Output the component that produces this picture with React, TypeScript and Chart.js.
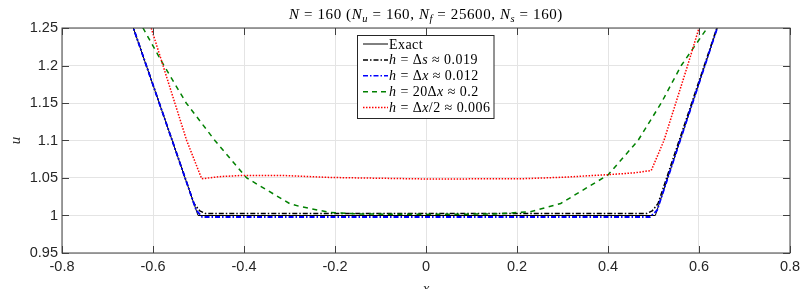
import React, { useEffect, useRef } from "react";
import { Chart, registerables } from "chart.js";

Chart.register(...registerables);

// ---- data ----
const xTickValues = [-0.8, -0.6, -0.4, -0.2, 0, 0.2, 0.4, 0.6, 0.8];
const xTickLabels = ["-0.8", "-0.6", "-0.4", "-0.2", "0", "0.2", "0.4", "0.6", "0.8"];
const yTickValues = [0.95, 1, 1.05, 1.1, 1.15, 1.2, 1.25];
const yTickLabels = ["0.95", "1", "1.05", "1.1", "1.15", "1.2", "1.25"];

const exactX = [-0.7, -0.501, 0.504, 0.7];
const exactU = [1.35, 1.0, 1.0, 1.36];

const dsX = [-0.7, -0.51, -0.497, -0.485, 0.485, 0.497, 0.51, 0.7];
const dsU = [1.35, 1.016, 1.006, 1.0027, 1.0027, 1.006, 1.016, 1.36];

const dxX = [-0.7, -0.505, -0.492, 0.492, 0.508, 0.7];
const dxU = [1.35, 1.007, 0.998, 0.998, 1.007, 1.36];

const d20X = [-0.7, -0.622, -0.576, -0.527, -0.464, -0.394, -0.3, -0.277, -0.211, -0.15, 0, 0.15, 0.229, 0.296, 0.4, 0.466, 0.517, 0.561, 0.618, 0.7];
const d20U = [1.34, 1.25, 1.2, 1.15, 1.1, 1.05, 1.016, 1.012, 1.004, 1.002, 1.0015, 1.002, 1.005, 1.016, 1.054, 1.1, 1.15, 1.2, 1.25, 1.34];

const halfX = [-0.7, -0.604, -0.578, -0.552, -0.526, -0.493, -0.45, -0.4, -0.32, -0.21, 0, 0.21, 0.3, 0.4, 0.46, 0.495, 0.523, 0.549, 0.575, 0.6, 0.7];
const halfU = [1.42, 1.25, 1.2, 1.15, 1.1, 1.049, 1.052, 1.0535, 1.0535, 1.0507, 1.0487, 1.049, 1.051, 1.0544, 1.057, 1.06, 1.1, 1.15, 1.2, 1.25, 1.43];

const pts = (xs: number[], ys: number[]) => xs.map((x, i) => ({ x, y: ys[i] }));

type Seg = { t: string; i?: boolean; sub?: boolean };
const SERIF = '"Liberation Serif", "Times New Roman", serif';

function segFont(s: Seg, size: number) {
  const sz = s.sub ? size * 0.7 : size;
  return `${s.i ? "italic " : ""}${sz}px ${SERIF}`;
}
function richWidth(ctx: CanvasRenderingContext2D, segs: Seg[], size: number) {
  let w = 0;
  for (const s of segs) {
    ctx.font = segFont(s, size);
    w += ctx.measureText(s.t).width;
  }
  return w;
}
function drawRich(ctx: CanvasRenderingContext2D, segs: Seg[], x: number, y: number, size: number) {
  let cx = x;
  ctx.textBaseline = "alphabetic";
  ctx.textAlign = "left";
  for (const s of segs) {
    ctx.font = segFont(s, size);
    ctx.fillText(s.t, cx, s.sub ? y + size * 0.22 : y);
    cx += ctx.measureText(s.t).width;
  }
}

const titleSegs: Seg[] = [
  { t: "N", i: true }, { t: " = 160 (" },
  { t: "N", i: true }, { t: "u", i: true, sub: true }, { t: " = 160, " },
  { t: "N", i: true }, { t: "f", i: true, sub: true }, { t: " = 25600, " },
  { t: "N", i: true }, { t: "s", i: true, sub: true }, { t: " = 160)" },
];

const legendItems: { segs: Seg[]; color: string; dash: number[]; width: number }[] = [
  { segs: [{ t: "Exact" }], color: "#000000", dash: [], width: 1 },
  { segs: [{ t: "h", i: true }, { t: " = Δ" }, { t: "s", i: true }, { t: " ≈ 0.019" }], color: "#000000", dash: [5, 2, 1.5, 2], width: 1.5 },
  { segs: [{ t: "h", i: true }, { t: " = Δ" }, { t: "x", i: true }, { t: " ≈ 0.012" }], color: "#0000ff", dash: [5, 2, 1.5, 2], width: 1.5 },
  { segs: [{ t: "h", i: true }, { t: " = 20Δ" }, { t: "x", i: true }, { t: " ≈ 0.2" }], color: "#008000", dash: [5, 4], width: 1.5 },
  { segs: [{ t: "h", i: true }, { t: " = Δ" }, { t: "x", i: true }, { t: "/2 ≈ 0.006" }], color: "#ff0000", dash: [1.5, 1.5], width: 1.5 },
];

const decorPlugin = {
  id: "decor",
  afterDraw(chart: any) {
    const ctx: any = chart.ctx;
    const { left, right, top, bottom } = chart.chartArea;
    const xs = chart.scales.x;
    const ys = chart.scales.y;
    ctx.save();
    // box
    ctx.strokeStyle = "#404040";
    ctx.lineWidth = 1;
    ctx.setLineDash([]);
    ctx.strokeRect(left, top, right - left, bottom - top);
    // inward ticks
    const tl = 7;
    ctx.beginPath();
    for (const v of xTickValues) {
      const px = Math.round(xs.getPixelForValue(v)) + 0.5;
      ctx.moveTo(px, bottom); ctx.lineTo(px, bottom - tl);
      ctx.moveTo(px, top); ctx.lineTo(px, top + tl);
    }
    for (const v of yTickValues) {
      const py = Math.round(ys.getPixelForValue(v)) + 0.5;
      ctx.moveTo(left, py); ctx.lineTo(left + tl, py);
      ctx.moveTo(right, py); ctx.lineTo(right - tl, py);
    }
    ctx.stroke();

    // title
    ctx.fillStyle = "#000000";
    ctx.letterSpacing = "0.6px";
    const tsize = 15;
    const tw = richWidth(ctx, titleSegs, tsize);
    drawRich(ctx, titleSegs, (left + right) / 2 - tw / 2, 18.5, tsize);

    // axis labels
    ctx.letterSpacing = "0px";
    ctx.font = `italic 15px ${SERIF}`;
    ctx.fillStyle = "#262626";
    ctx.textAlign = "center";
    ctx.textBaseline = "top";
    ctx.fillText("x", (left + right) / 2, 282);
    ctx.save();
    ctx.translate(16, (top + bottom) / 2);
    ctx.rotate(-Math.PI / 2);
    ctx.textBaseline = "middle";
    ctx.fillText("u", 0, 0);
    ctx.restore();

    // legend
    const lx = 357.5, ly = 35.5, lw = 136.5, lh = 83;
    ctx.fillStyle = "#ffffff";
    ctx.fillRect(lx, ly, lw, lh);
    ctx.strokeStyle = "#262626";
    ctx.lineWidth = 1;
    ctx.setLineDash([]);
    ctx.strokeRect(lx, ly, lw, lh);
    ctx.letterSpacing = "0.45px";
    legendItems.forEach((it, k) => {
      const cy = 44 + k * 15.9;
      ctx.strokeStyle = it.color;
      ctx.lineWidth = it.width;
      ctx.setLineDash(it.dash);
      ctx.beginPath();
      ctx.moveTo(363, cy);
      ctx.lineTo(388, cy);
      ctx.stroke();
      ctx.setLineDash([]);
      ctx.fillStyle = "#000000";
      drawRich(ctx, it.segs, 389, cy + 4.5, 14);
    });
    ctx.letterSpacing = "0px";
    ctx.restore();
  },
};

export default function App() {
  const ref = useRef<HTMLCanvasElement>(null);
  useEffect(() => {
    document.body.style.margin = "0";
    const canvas = ref.current!;
    const tickFont = { family: '"Liberation Sans", Arial, sans-serif', size: 14.5 };
    const mk = (label: string, xs: number[], ys: number[], color: string, width: number, dash: number[], order: number) => ({
      label,
      data: pts(xs, ys),
      borderColor: color,
      backgroundColor: color,
      borderWidth: width,
      borderDash: dash,
      pointRadius: 0,
      fill: false,
      tension: 0,
      order,
    });
    const chart = new Chart(canvas, {
      type: "line",
      data: {
        datasets: [
          mk("Exact", exactX, exactU, "#000000", 1, [], 5),
          mk("ds", dsX, dsU, "#000000", 1.5, [5, 2, 1.5, 2], 4),
          mk("dx", dxX, dxU, "#0000ff", 1.8, [5, 2, 1.5, 2], 3),
          mk("20dx", d20X, d20U, "#008000", 1.5, [5, 4.5], 2),
          mk("half", halfX, halfU, "#ff0000", 1.5, [1.5, 1.5], 1),
        ] as any,
      },
      options: {
        animation: false,
        responsive: false,
        devicePixelRatio: 1,
        layout: { padding: { left: 0, right: 16, top: 28, bottom: 0 } },
        plugins: { legend: { display: false }, title: { display: false }, tooltip: { enabled: false } },
        scales: {
          x: {
            type: "linear",
            min: -0.8,
            max: 0.8,
            afterBuildTicks: (s: any) => { s.ticks = xTickValues.map((v) => ({ value: v })); },
            afterFit: (s: any) => { s.height = 36; },
            grid: { color: "#e4e4e4", drawTicks: false },
            border: { display: false },
            ticks: {
              padding: 5,
              font: tickFont,
              color: "#262626",
              maxRotation: 0,
              autoSkip: false,
              callback: (_v: any, i: number) => xTickLabels[i],
            },
          },
          y: {
            type: "linear",
            min: 0.95,
            max: 1.25,
            afterBuildTicks: (s: any) => { s.ticks = yTickValues.map((v) => ({ value: v })); },
            afterFit: (s: any) => { s.width = 62; },
            grid: { color: "#e4e4e4", drawTicks: false },
            border: { display: false },
            ticks: {
              padding: 4,
              font: tickFont,
              color: "#262626",
              autoSkip: false,
              callback: (_v: any, i: number) => yTickLabels[i],
            },
          },
        },
      } as any,
      plugins: [decorPlugin],
    });
    return () => chart.destroy();
  }, []);
  return (
    <div style={{ width: 806, height: 289 }}>
      <canvas ref={ref} width={806} height={289} style={{ display: "block" }} />
    </div>
  );
}
